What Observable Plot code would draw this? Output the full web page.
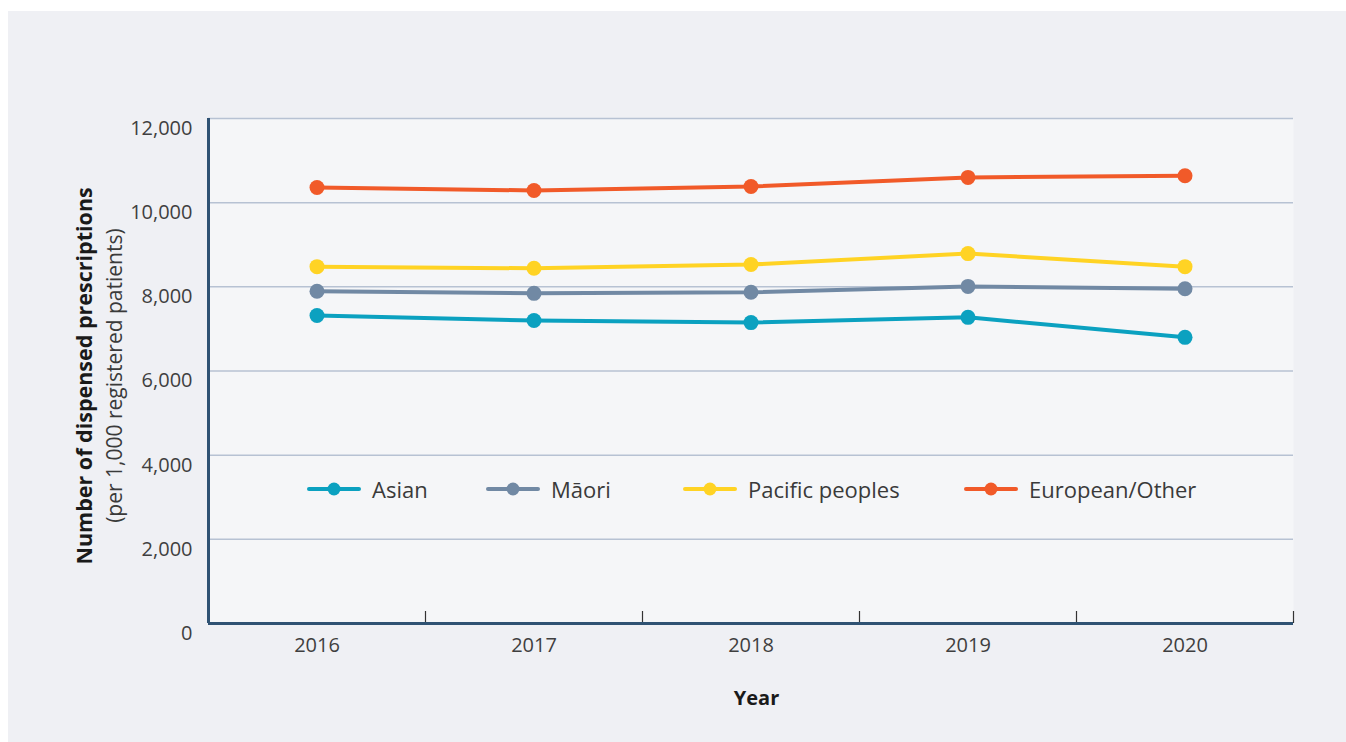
<!DOCTYPE html>
<html>
<head>
<meta charset="utf-8">
<script src="https://cdn.jsdelivr.net/npm/d3@7"></script>
<script src="https://cdn.jsdelivr.net/npm/@observablehq/plot@0.6"></script>
<style>
  html, body { margin: 0; padding: 0; background: #ffffff; }
  body { width: 1346px; height: 742px; position: relative; overflow: hidden; font-family: "Open Sans", sans-serif; }
  #panel { position: absolute; left: 8px; top: 11px; width: 1338px; height: 731px; background: #eff0f4; }
  #chart { position: absolute; left: 0; top: 0; }
  .ytitle { position: absolute; left: 0; top: 0; transform-origin: center center; white-space: nowrap; color: #1a1a1a; line-height: 1.2; }
  #yt1 { font-weight: 700; font-size: 21.5px; }
  #yt2 { font-weight: 400; font-size: 21px; color: #3a3a3a; }
  #xtitle { position: absolute; font-weight: 700; font-size: 20px; color: #1a1a1a; transform: translate(-50%, -50%); }
  #legend { position: absolute; left: 0; top: 0; width: 100%; height: 0; font-size: 22px; color: #3a3a3a; }
  .item { position: absolute; display: flex; align-items: center; gap: 11px; transform: translateY(-50%); white-space: nowrap; }
</style>
</head>
<body>
<div id="panel">
  <div id="chart"></div>
  <div class="ytitle" id="yt1">Number of dispensed prescriptions</div>
  <div class="ytitle" id="yt2">(per 1,000 registered patients)</div>
  <div id="xtitle">Year</div>
  <div id="legend"></div>
</div>
<script>
const years = [2016, 2017, 2018, 2019, 2020];
const groups = ["Asian", "Māori", "Pacific peoples", "European/Other"];
const colors = ["#0ba1c0", "#7189a4", "#ffd324", "#f15a29"];
const asian = [7320, 7200, 7150, 7275, 6800];
const maori = [7895, 7845, 7870, 8010, 7955];
const pacific = [8480, 8440, 8530, 8790, 8480];
const european = [10360, 10290, 10385, 10600, 10640];
const yTicks = [0, 2000, 4000, 6000, 8000, 10000, 12000];

const seriesValues = [asian, maori, pacific, european];
const data = [];
groups.forEach((g, gi) => years.forEach((yr, i) => data.push({group: g, year: yr, value: seriesValues[gi][i]})));
const boundaries = years.map(y => y + 0.5);

const W = 1338, H = 731;
const mL = 200, mR = 53, mT = 107, mB = 119;

const chart = Plot.plot({
  width: W,
  height: H,
  marginLeft: mL,
  marginRight: mR,
  marginTop: mT,
  marginBottom: mB,
  style: { fontFamily: "Open Sans, sans-serif", fontSize: "20px", background: "transparent", color: "#3f3f3f" },
  x: { type: "linear", domain: [years[0] - 0.5, years[years.length - 1] + 0.5] },
  y: { domain: [yTicks[0], yTicks[yTicks.length - 1]] },
  color: { domain: groups, range: colors },
  marks: [
    Plot.frame({ fill: "#f5f6f8", stroke: null }),
    Plot.gridY(yTicks, { stroke: "#b7c2d3", strokeOpacity: 1, strokeWidth: 1.5 }),
    Plot.axisY({ ticks: yTicks, tickSize: 0, tickPadding: 16, dy: 10, fontSize: 20, fill: "#3f3f3f", label: null, tickFormat: d3.format(",") }),
    Plot.axisX({ ticks: years, tickSize: 0, tickPadding: 14, fontSize: 20, fill: "#3f3f3f", label: null, tickFormat: d => String(d) }),
    Plot.axisX({ ticks: boundaries, tickSize: 12, dy: -12, stroke: "#333333", strokeWidth: 1.2, label: null, tickFormat: () => "" }),
    Plot.ruleX([years[0] - 0.5], { stroke: "#2f5273", strokeWidth: 3 }),
    Plot.ruleY([yTicks[0]], { stroke: "#2f5273", strokeWidth: 3 }),
    Plot.lineY(data, { x: "year", y: "value", z: "group", stroke: "group", strokeWidth: 4 }),
    Plot.dot(data, { x: "year", y: "value", fill: "group", r: 7.5 })
  ]
});
document.getElementById("chart").appendChild(chart);

// Axis titles (positioned relative to the plot frame)
const cy = mT + (H - mT - mB) / 2 + 5;
function placeRot(id, cx) {
  const el = document.getElementById(id);
  const w = el.offsetWidth, h = el.offsetHeight;
  el.style.left = (cx - w / 2) + "px";
  el.style.top = (cy - h / 2) + "px";
  el.style.transform = "rotate(-90deg)";
}
placeRot("yt1", 75);
placeRot("yt2", 106);
const xt = document.getElementById("xtitle");
xt.style.left = (mL + (W - mL - mR) / 2 + 6) + "px";
xt.style.top = "686px";

// Legend
const legend = document.getElementById("legend");
const legendLeft = [299, 478, 675, 956];
groups.forEach((g, i) => {
  const item = document.createElement("div");
  item.className = "item";
  item.style.left = legendLeft[i] + "px";
  item.style.top = "478px";
  item.innerHTML = `<svg width="54" height="16"><line x1="2" y1="8" x2="52" y2="8" stroke="${colors[i]}" stroke-width="4" stroke-linecap="round"/><circle cx="27" cy="8" r="6.5" fill="${colors[i]}"/></svg><span>${g}</span>`;
  legend.appendChild(item);
});
</script>
</body>
</html>
